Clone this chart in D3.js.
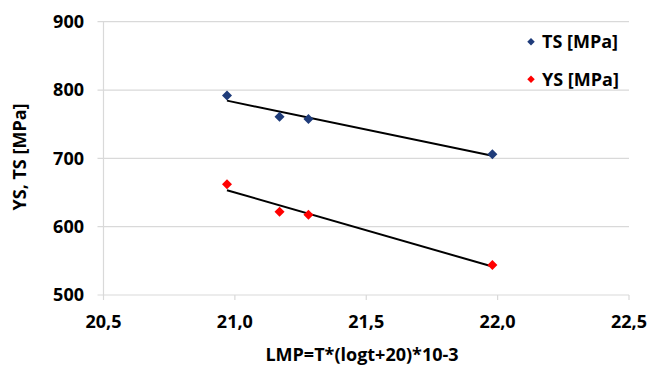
<!DOCTYPE html>
<html>
<head>
<meta charset="utf-8">
<script src="https://cdn.jsdelivr.net/npm/d3@7"></script>
<style>
  html, body { margin: 0; padding: 0; background: #fff; }
  svg { display: block; font-family: "Open Sans", Lato, sans-serif; font-weight: bold; }
</style>
</head>
<body>
<svg id="chart" width="660" height="367"></svg>
<script>
// LMP values (x) and strength measurements (MPa)
const lmp = [20.97, 21.17, 21.28, 21.98];
const tsValues = [792, 761, 757.5, 706];
const ysValues = [662, 622, 617.5, 544];

const xTicks = [20.5, 21.0, 21.5, 22.0, 22.5];
const yTicks = [500, 600, 700, 800, 900];

const seriesNames = ["TS [MPa]", "YS [MPa]"];
const seriesColors = ["#1f3c7a", "#ff0000"];

const xTitle = "LMP=T*(logt+20)*10-3";
const yTitle = "YS, TS [MPa]";

const svg = d3.select("#chart");
const margin = { left: 103.5, right: 31, top: 21.7, bottom: 72 };
const W = 660, H = 367;
const fontSize = 18;

const x = d3.scaleLinear().domain([20.5, 22.5]).range([margin.left, W - margin.right]);
const y = d3.scaleLinear().domain([500, 900]).range([H - margin.bottom, margin.top]);

const fmt = d => d3.format(".1f")(d).replace(".", ",");

// horizontal gridlines
svg.append("g")
  .selectAll("line")
  .data(yTicks)
  .join("line")
  .attr("x1", x.range()[0] - 6).attr("x2", x.range()[1])
  .attr("y1", d => y(d)).attr("y2", d => y(d))
  .attr("stroke", "#d9d9d9").attr("stroke-width", 1.2);

// y axis line
svg.append("line")
  .attr("x1", x.range()[0]).attr("x2", x.range()[0])
  .attr("y1", y.range()[0]).attr("y2", y.range()[1])
  .attr("stroke", "#d9d9d9").attr("stroke-width", 1.2);

// x axis ticks
svg.append("g")
  .selectAll("line")
  .data(xTicks)
  .join("line")
  .attr("x1", d => x(d)).attr("x2", d => x(d))
  .attr("y1", y.range()[0]).attr("y2", y.range()[0] + 5)
  .attr("stroke", "#d9d9d9").attr("stroke-width", 1.2);

// y tick labels
svg.append("g")
  .selectAll("text")
  .data(yTicks)
  .join("text")
  .attr("x", 84).attr("y", d => y(d))
  .attr("dy", "0.35em")
  .attr("text-anchor", "end")
  .attr("font-size", fontSize)
  .attr("fill", "#000")
  .text(d => d);

// x tick labels
svg.append("g")
  .selectAll("text")
  .data(xTicks)
  .join("text")
  .attr("x", d => x(d)).attr("y", 322)
  .attr("dy", "0.35em")
  .attr("text-anchor", "middle")
  .attr("font-size", fontSize)
  .attr("fill", "#000")
  .text(fmt);

// axis titles
svg.append("text")
  .attr("x", 362).attr("y", 355).attr("dy", "0.35em")
  .attr("text-anchor", "middle")
  .attr("font-size", fontSize)
  .text(xTitle);

svg.append("text")
  .attr("transform", "translate(20,157) rotate(-90)")
  .attr("dy", "0.35em")
  .attr("text-anchor", "middle")
  .attr("font-size", fontSize)
  .text(yTitle);

// linear least-squares trend line over the measured range
function trend(xs, ys) {
  const mx = d3.mean(xs), my = d3.mean(ys);
  const sxy = d3.sum(xs, (v, i) => (v - mx) * (ys[i] - my));
  const sxx = d3.sum(xs, v => (v - mx) ** 2);
  const b = sxy / sxx, a = my - b * mx;
  const [x0, x1] = d3.extent(xs);
  return [[x0, a + b * x0], [x1, a + b * x1]];
}

const series = [tsValues, ysValues];
const line = d3.line().x(d => x(d[0])).y(d => y(d[1]));

series.forEach(vals => {
  svg.append("path")
    .attr("d", line(trend(lmp, vals)))
    .attr("fill", "none")
    .attr("stroke", "#000")
    .attr("stroke-width", 2);
});

const diamond = d3.symbol().type(d3.symbolDiamond2);

series.forEach((vals, si) => {
  svg.append("g")
    .selectAll("path")
    .data(lmp.map((v, i) => [v, vals[i]]))
    .join("path")
    .attr("transform", d => `translate(${x(d[0])},${y(d[1])})`)
    .attr("d", diamond.size(64)())
    .attr("fill", seriesColors[si]);
});

// legend
const legend = svg.append("g");
seriesNames.forEach((name, i) => {
  const ly = 41.7 + i * 37.5;
  legend.append("path")
    .attr("transform", `translate(531,${ly})`)
    .attr("d", diamond.size(36)())
    .attr("fill", seriesColors[i]);
  legend.append("text")
    .attr("x", 542).attr("y", ly).attr("dy", "0.35em")
    .attr("font-size", fontSize)
    .text(name);
});
</script>
</body>
</html>
